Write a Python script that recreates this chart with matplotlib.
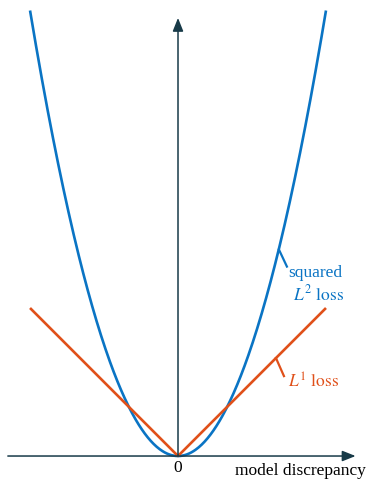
import numpy as np
import matplotlib.pyplot as plt

plt.rcParams['font.family'] = ['Liberation Serif', 'DejaVu Serif']
plt.rcParams['mathtext.fontset'] = 'stix'

# model discrepancy range and loss shapes
x = np.linspace(-1.0, 1.0, 401)
l2_coef = 3.01
l1_loss = np.abs(x)
l2_loss = l2_coef * x ** 2

blue = '#0a74c4'
orange = '#e0501a'
axis_col = '#183a48'

fig = plt.figure(figsize=(3.68, 4.8), dpi=100)
ax = fig.add_axes([0, 0, 1, 1])
ax.set_xlim(-1.203, 1.284)
ax.set_ylim(-0.162, 3.081)
ax.axis('off')

# axes with arrows
ax.annotate('', xy=(1.20, 0), xytext=(-1.15, 0),
            arrowprops=dict(arrowstyle='-|>,head_length=0.5,head_width=0.2',
                            color=axis_col, lw=1.1,
                            mutation_scale=16, shrinkA=0, shrinkB=0))
ax.annotate('', xy=(0, 2.96), xytext=(0, 0),
            arrowprops=dict(arrowstyle='-|>,head_length=0.5,head_width=0.2',
                            color=axis_col, lw=1.1,
                            mutation_scale=16, shrinkA=0, shrinkB=0))

ax.plot(x, l2_loss, color=blue, lw=1.9, solid_capstyle='butt')
ax.plot(x, l1_loss, color=orange, lw=1.9, solid_capstyle='butt')

# label ticks
ax.plot([0.682, 0.736], [1.395, 1.28], color=blue, lw=1.6)
ax.plot([0.662, 0.716], [0.662, 0.54], color=orange, lw=1.6)

ax.text(0.745, 1.235, 'squared', color=blue, fontsize=12.5, va='center', ha='left')
ax.text(0.775, 1.095, r'$L^2\ \mathrm{loss}$', color=blue, fontsize=12.5,
        va='center', ha='left')
ax.text(0.745, 0.50, r'$L^1\ \mathrm{loss}$', color=orange, fontsize=12.5,
        va='center', ha='left')

ax.text(0, -0.08, '0', color='black', fontsize=12.5, ha='center', va='center')
ax.text(1.27, -0.10, 'model discrepancy', color='black', fontsize=12.5,
        ha='right', va='center')

fig.savefig('out.png', dpi=100)
